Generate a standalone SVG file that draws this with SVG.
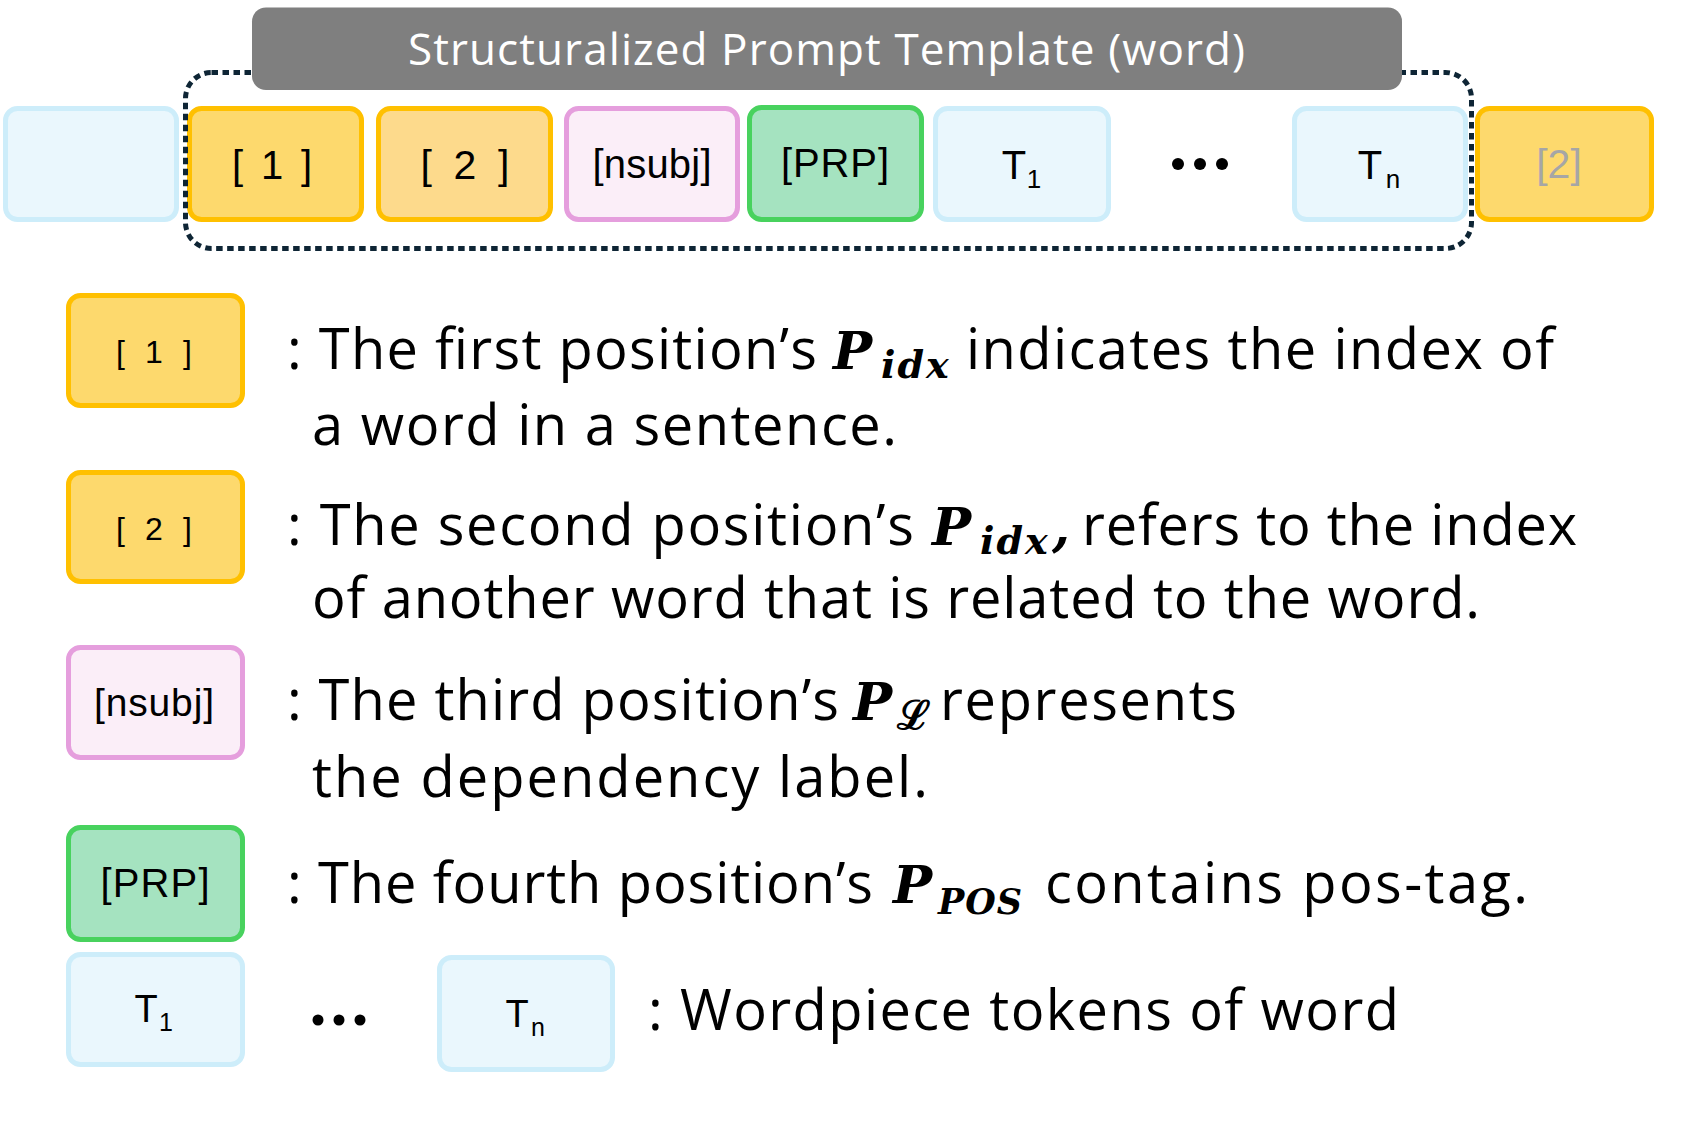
<svg xmlns="http://www.w3.org/2000/svg" width="1695" height="1122" viewBox="0 0 1695 1122">
<defs>
<style>
.box{stroke-width:5}
.cyan{fill:#EAF7FD;stroke:#CDEDFA}
.yel{fill:#FDD96D;stroke:#FFC000}
.yel2{fill:#FDDA8C;stroke:#FFC000}
.pink{fill:#FBEEF8;stroke:#E59EDD}
.green{fill:#A5E3C0;stroke:#48D25E}
.lbl{font-family:"Liberation Sans",Arial,sans-serif;fill:#000;text-anchor:middle}
.body{font-family:"Open Sans","Liberation Sans",sans-serif;font-size:56px;fill:#000}
.math{font-family:"DejaVu Serif","Liberation Serif",serif;font-weight:bold;font-style:italic;fill:#000;font-size:52px}
.dot{fill:#000}
</style>
</defs>
<rect width="1695" height="1122" fill="#FFFFFF"/>

<!-- top row nodes -->
<g id="top-blank"><rect class="box cyan" x="5.5" y="108.5" width="171" height="111" rx="12"/></g>
<g id="top-idx1"><rect class="box yel" x="189.5" y="108.5" width="172" height="111" rx="12"/><text class="lbl" x="272" y="179" font-size="40" textLength="80" xml:space="preserve">[ 1 ]</text></g>
<g id="top-idx2"><rect class="box yel2" x="378.5" y="108.5" width="172" height="111" rx="12"/><text class="lbl" x="465" y="179" font-size="41" textLength="89" xml:space="preserve">[ 2 ]</text></g>
<g id="top-nsubj"><rect class="box pink" x="566.5" y="108.5" width="171" height="111" rx="12"/><text class="lbl" x="652" y="178" font-size="40" textLength="119">[nsubj]</text></g>
<g id="top-prp"><rect class="box green" x="749.5" y="107.5" width="172" height="112" rx="12"/><text class="lbl" x="835" y="177" font-size="40" textLength="108">[PRP]</text></g>
<g id="top-t1"><rect class="box cyan" x="935.5" y="108.5" width="173" height="111" rx="12"/><text class="lbl" x="1014" y="179" font-size="40">T</text><text class="lbl" x="1034" y="188" font-size="26">1</text></g>
<g id="top-dots"><circle class="dot" cx="1178" cy="164" r="6"/><circle class="dot" cx="1200" cy="164" r="6"/><circle class="dot" cx="1222" cy="164" r="6"/></g>
<g id="top-tn"><rect class="box cyan" x="1294.5" y="108.5" width="171" height="111" rx="12"/><text class="lbl" x="1370" y="179" font-size="40">T</text><text class="lbl" x="1393" y="188" font-size="26">n</text></g>
<g id="top-next2"><rect class="box yel" x="1477.5" y="108.5" width="174" height="111" rx="12"/><text class="lbl" x="1559" y="178" font-size="41" style="fill:#A6A6A6">[2]</text></g>

<!-- dotted template frame -->
<g id="template-frame"><rect x="185.5" y="72.5" width="1286" height="176" rx="26" fill="none" stroke="#0E2535" stroke-width="5" stroke-dasharray="6.5 4.5"/></g>

<!-- title -->
<g id="title"><rect x="252" y="7.5" width="1150" height="82.5" rx="14" fill="#7F7F7F"/><text x="408" y="65" font-family="'Open Sans','Liberation Sans',sans-serif" font-size="44" fill="#FFFFFF" textLength="837">Structuralized Prompt Template (word)</text></g>

<!-- legend -->
<g id="legend-idx1"><rect class="box yel" x="68.5" y="295.5" width="174" height="110" rx="12"/><text class="lbl" x="154" y="363" font-size="32" textLength="76" xml:space="preserve">[ 1 ]</text></g>
<g id="legend-idx1-text">
<text class="body" x="287" y="369" textLength="530">: The first position’s</text>
<text class="math" x="833" y="369">P<tspan x="881" dy="9" font-size="38" letter-spacing="2">idx</tspan></text>
<text class="body" x="966" y="369" textLength="588">indicates the index of</text>
<text class="body" x="312" y="445" textLength="585">a word in a sentence.</text>
</g>

<g id="legend-idx2"><rect class="box yel" x="68.5" y="472.5" width="174" height="109" rx="12"/><text class="lbl" x="154" y="540" font-size="32" textLength="76" xml:space="preserve">[ 2 ]</text></g>
<g id="legend-idx2-text">
<text class="body" x="287" y="545" textLength="627">: The second position’s</text>
<text class="math" x="932" y="545">P<tspan x="980" dy="9" font-size="38" letter-spacing="2">idx</tspan><tspan x="1052" dy="-9">,</tspan></text>
<text class="body" x="1082" y="545" textLength="495">refers to the index</text>
<text class="body" x="312" y="618" textLength="1168">of another word that is related to the word.</text>
</g>

<g id="legend-nsubj"><rect class="box pink" x="68.5" y="647.5" width="174" height="110" rx="12"/><text class="lbl" x="154" y="716" font-size="39" textLength="120">[nsubj]</text></g>
<g id="legend-nsubj-text">
<text class="body" x="287" y="720" textLength="552">: The third position’s</text>
<text class="math" x="853" y="720">P<tspan x="897" dy="9" font-size="40" font-style="normal">ℒ</tspan></text>
<text class="body" x="940" y="720" textLength="297">represents</text>
<text class="body" x="312" y="797" textLength="616">the dependency label.</text>
</g>

<g id="legend-prp"><rect class="box green" x="68.5" y="827.5" width="174" height="112" rx="12"/><text class="lbl" x="155" y="897" font-size="40" textLength="109">[PRP]</text></g>
<g id="legend-prp-text">
<text class="body" x="287" y="903" textLength="586">: The fourth position’s</text>
<text class="math" x="893" y="903">P<tspan x="938" dy="11" font-size="35" letter-spacing="1">POS</tspan></text>
<text class="body" x="1045" y="903" textLength="483">contains pos-tag.</text>
</g>

<g id="legend-t1"><rect class="box cyan" x="68.5" y="954.5" width="174" height="110" rx="12"/><text class="lbl" x="146" y="1022" font-size="38">T</text><text class="lbl" x="166" y="1031" font-size="25">1</text></g>
<g id="legend-dots"><circle class="dot" cx="318" cy="1020" r="5.5"/><circle class="dot" cx="339" cy="1020" r="5.5"/><circle class="dot" cx="360" cy="1020" r="5.5"/></g>
<g id="legend-tn"><rect class="box cyan" x="439.5" y="957.5" width="173" height="112" rx="12"/><text class="lbl" x="517" y="1027" font-size="38">T</text><text class="lbl" x="538" y="1036" font-size="25">n</text></g>
<g id="legend-tokens-text"><text class="body" x="648" y="1030" textLength="751">: Wordpiece tokens of word</text></g>
</svg>
